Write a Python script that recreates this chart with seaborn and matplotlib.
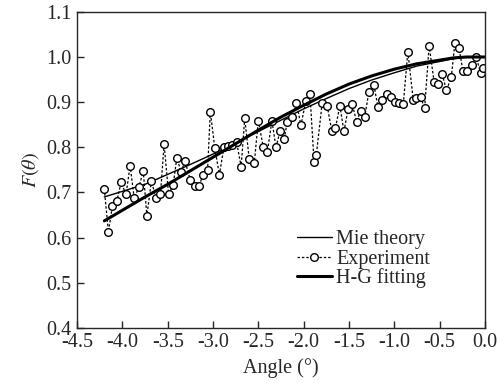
import numpy as np
import pandas as pd
import matplotlib
matplotlib.use("Agg")
import matplotlib.pyplot as plt
import seaborn as sns

# Experiment points (angle in degrees, F(theta))
exp_angle = [-4.20, -4.155, -4.11, -4.06, -4.015, -3.96, -3.915, -3.87, -3.82, -3.77,
             -3.73, -3.68, -3.63, -3.58, -3.54, -3.49, -3.44, -3.40, -3.35, -3.31,
             -3.25, -3.20, -3.155, -3.11, -3.06, -3.03, -2.98, -2.93, -2.88, -2.84,
             -2.79, -2.74, -2.69, -2.65, -2.60, -2.545, -2.50, -2.445, -2.40, -2.35,
             -2.305, -2.26, -2.215, -2.18, -2.13, -2.08, -2.03, -1.975, -1.93, -1.885,
             -1.86, -1.795, -1.74, -1.69, -1.65, -1.60, -1.555, -1.51, -1.465, -1.415,
             -1.37, -1.325, -1.28, -1.225, -1.18, -1.14, -1.085, -1.04, -0.995, -0.95,
             -0.90, -0.85, -0.79, -0.755, -0.71, -0.665, -0.615, -0.56, -0.515, -0.47,
             -0.425, -0.37, -0.33, -0.285, -0.24, -0.195, -0.145, -0.095, -0.045, -0.02]
exp_F = [0.708, 0.613, 0.670, 0.682, 0.722, 0.696, 0.759, 0.687, 0.711, 0.747,
         0.648, 0.726, 0.687, 0.696, 0.807, 0.696, 0.716, 0.776, 0.745, 0.770,
         0.727, 0.714, 0.714, 0.739, 0.750, 0.879, 0.798, 0.739, 0.800, 0.802,
         0.806, 0.812, 0.757, 0.864, 0.773, 0.765, 0.859, 0.800, 0.790, 0.859,
         0.800, 0.836, 0.818, 0.857, 0.867, 0.899, 0.849, 0.903, 0.917, 0.768,
         0.783, 0.899, 0.892, 0.837, 0.842, 0.892, 0.835, 0.884, 0.896, 0.857,
         0.881, 0.867, 0.923, 0.938, 0.890, 0.905, 0.917, 0.912, 0.901, 0.898,
         0.896, 1.012, 0.905, 0.909, 0.912, 0.886, 1.025, 0.945, 0.940, 0.962,
         0.926, 0.955, 1.032, 1.019, 0.968, 0.970, 0.982, 0.999, 0.964, 0.975]

# Mie theory curve
mie_angle = [-4.2, -3.75, -3.5, -3.25, -3.0, -2.75, -2.5, -2.25, -2.0, -1.75,
             -1.5, -1.25, -1.0, -0.75, -0.5, -0.35, -0.2, 0.0]
mie_F = [0.690, 0.718, 0.740, 0.762, 0.785, 0.810, 0.835, 0.860, 0.885, 0.908,
         0.930, 0.949, 0.965, 0.980, 0.990, 0.996, 1.000, 1.000]

# H-G fitting curve
hg_angle = [-4.2, -3.75, -3.5, -3.25, -3.0, -2.75, -2.5, -2.25, -2.0, -1.75,
            -1.5, -1.25, -1.0, -0.75, -0.5, -0.35, -0.2, 0.0]
hg_F = [0.637, 0.690, 0.718, 0.748, 0.778, 0.808, 0.838, 0.867, 0.893, 0.918,
        0.940, 0.958, 0.973, 0.985, 0.993, 0.998, 1.000, 1.000]

sns.set_style("ticks")
plt.rcParams["font.family"] = ["Liberation Serif", "DejaVu Serif"]
plt.rcParams["mathtext.fontset"] = "stix"

fig = plt.figure(figsize=(5.04, 3.83), dpi=100)
ax = fig.add_axes([0.153, 0.144, 0.809, 0.825])

sns.lineplot(x=mie_angle, y=mie_F, ax=ax, color="black", linewidth=1.0,
             label="Mie theory")
sns.lineplot(x=exp_angle, y=exp_F, ax=ax, color="black", linewidth=0.9,
             linestyle=(0, (2, 1.5)), marker="o", markersize=5.5,
             markerfacecolor="white", markeredgecolor="black",
             markeredgewidth=1.0, label="Experiment", sort=False)
sns.lineplot(x=hg_angle, y=hg_F, ax=ax, color="black", linewidth=2.2,
             label="H-G fitting")

ax.set_xlim(-4.5, 0.0)
ax.set_ylim(0.4, 1.1)
xt = np.arange(-4.5, 0.01, 0.5)
yt = np.arange(0.4, 1.101, 0.1)
ax.set_xticks(xt)
ax.set_yticks(yt)
ax.set_xticklabels([f"{v:.1f}" for v in xt])
ax.set_yticklabels([f"{v:.1f}" for v in yt])
ax.tick_params(direction="in", length=5, width=1, labelsize=14.5, pad=4)
for s in ax.spines.values():
    s.set_linewidth(1.0)
    s.set_visible(True)

ax.set_xlabel("Angle (°)", fontsize=14.5, labelpad=4)
ax.set_ylabel(r"$F(\theta)$", fontsize=14.5, labelpad=4)

ax.legend(loc="lower right", bbox_to_anchor=(0.90, 0.08), frameon=False,
          fontsize=14.5, handlelength=1.75, handletextpad=0.2,
          labelspacing=0.0, borderpad=0.2)

fig.savefig("out.png", dpi=100)
